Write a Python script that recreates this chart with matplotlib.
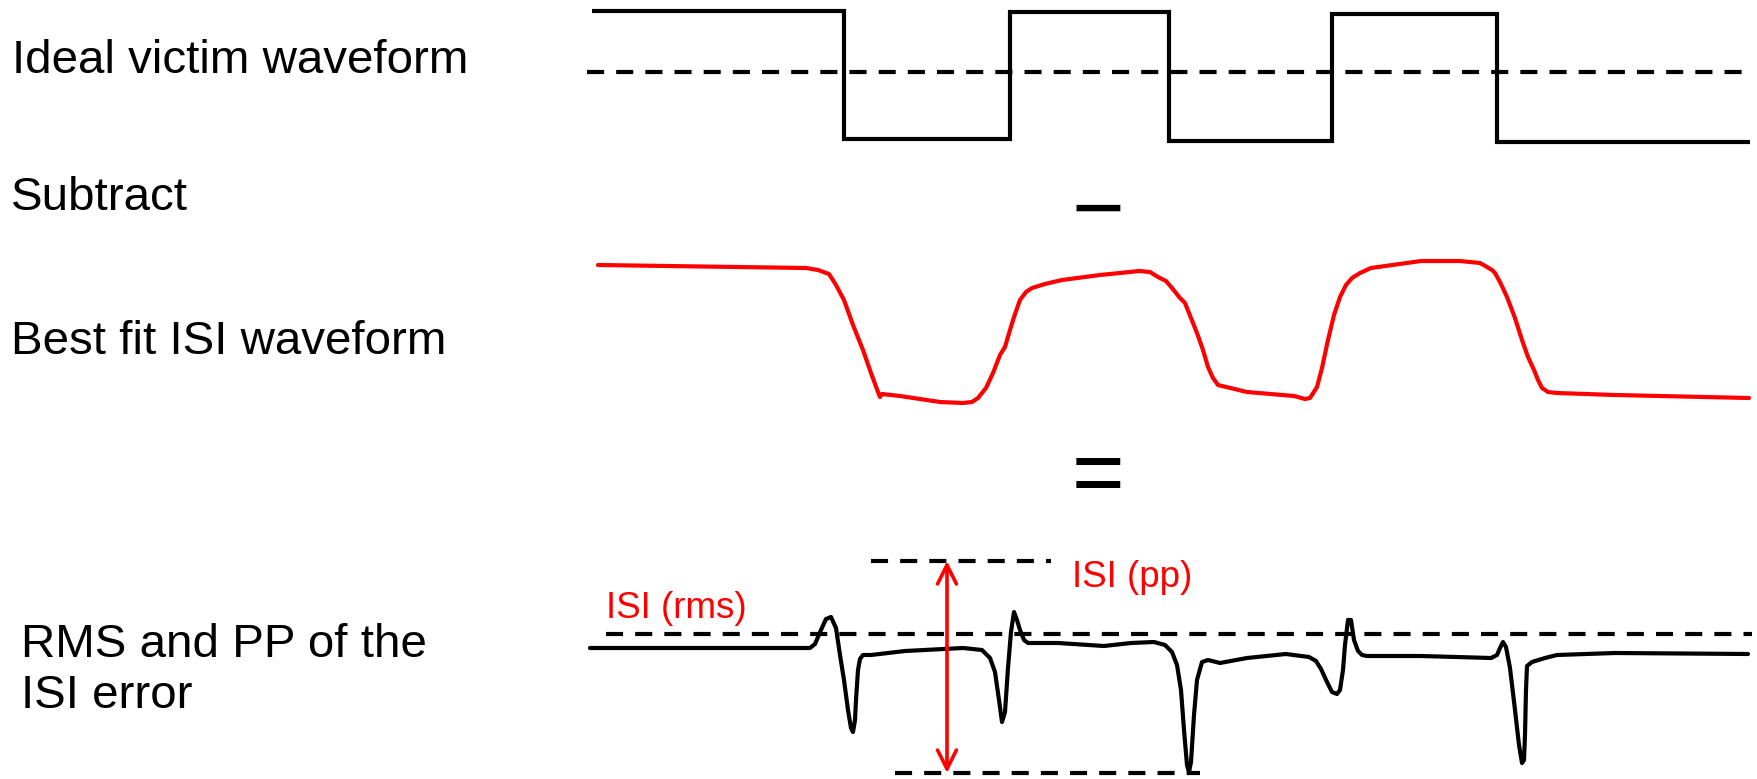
import matplotlib
matplotlib.use("Agg")
import matplotlib.pyplot as plt
from matplotlib.patches import ArrowStyle

plt.rcParams['font.family'] = ['Liberation Sans', 'DejaVu Sans']

# ---- data (picture coordinates, pixels; y grows downward) ----
row_labels = ["Ideal victim waveform", "Subtract", "Best fit ISI waveform",
              "RMS and PP of the", "ISI error"]
label_x = [12, 11, 11, 21, 21]
label_y = [73, 210, 354, 657, 708]

ideal_x = [592, 844, 844, 1010, 1010, 1169, 1169, 1332, 1332, 1497, 1497, 1750]
ideal_y = [11, 11, 139, 139, 12, 12, 141, 141, 14, 14, 142, 142]
ideal_mid_y = 72
ideal_mid_x = [587, 1750]

fit_x = [598, 806, 818, 829, 836, 844, 853, 863, 871, 878, 880, 882, 900, 940,
         963, 972, 978, 986, 993, 1000, 1005, 1010, 1014, 1020, 1026, 1032, 1045,
         1062, 1100, 1120, 1139, 1150, 1158, 1166, 1172, 1180, 1185, 1191, 1197,
         1203, 1208, 1213, 1218, 1247, 1294, 1305, 1310, 1317, 1322, 1328, 1334,
         1340, 1346, 1352, 1360, 1371, 1421, 1460, 1480, 1487, 1492, 1495, 1500,
         1507, 1515, 1522, 1528, 1534, 1538, 1542, 1548, 1557, 1615, 1749]
fit_y = [265, 268, 270, 274, 285, 300, 325, 350, 373, 392, 397, 394, 396, 402,
         403, 402, 398, 388, 373, 355, 347, 330, 317, 300, 292, 288, 284,
         280, 275, 273, 271, 272, 277, 281, 288, 298, 303, 318, 333,
         350, 367, 378, 385, 392, 396, 399, 398, 387, 368, 340, 315,
         297, 285, 278, 273, 268, 261, 261, 263, 267, 270, 273, 282,
         297, 318, 340, 357, 370, 380, 388, 392, 393, 395, 398]

err_x = [590, 810, 815, 821, 826, 831, 836, 840, 844, 848, 851, 853, 855, 856,
         858, 860, 863, 871, 905, 963, 982, 990, 995, 999, 1002, 1005, 1008, 1011,
         1014, 1017, 1020, 1024, 1028, 1058, 1104, 1131, 1154, 1165, 1172, 1177,
         1181, 1184, 1187, 1189, 1191, 1194, 1197, 1202, 1208, 1220, 1247, 1286,
         1309, 1316, 1321, 1327, 1332, 1337, 1340, 1343, 1345, 1348, 1351, 1354,
         1358, 1362, 1367, 1421, 1491, 1497, 1500, 1503, 1506, 1510, 1515, 1519,
         1522, 1524, 1525, 1526, 1527, 1532, 1545, 1557, 1615, 1748]
err_y = [648, 648, 644, 630, 619, 617, 628, 655, 680, 710, 728, 732, 720, 700,
         670, 659, 655, 655, 651, 648, 650, 658, 672, 700, 722, 712, 668, 632,
         612, 620, 630, 640, 643, 643, 646, 643, 642, 645, 652, 665, 690, 730,
         765, 772, 762, 715, 680, 662, 660, 663, 658, 654, 657, 661, 669, 682,
         692, 694, 690, 670, 645, 620, 620, 640, 651, 655, 656, 656, 658, 655,
         648, 642, 647, 668, 710, 745, 763, 760, 735, 690, 666, 662, 658, 655,
         653, 654]

rms_level_y = 634
rms_x = [606, 1752]
pp_top_y = 561
pp_top_x = [871, 1051]
pp_bot_y = 773
pp_bot_x = [895, 1200]
pp_arrow_x = 947

rms_label = "ISI (rms)"
rms_label_pos = (606, 618)
pp_label = "ISI (pp)"
pp_label_pos = (1072, 587)

op_minus = "\u2212"
op_minus_pos = (1098, 238)
op_equals = "="
op_equals_pos = (1098, 503)

# ---- drawing ----
W, H = 1758, 779
fig = plt.figure(figsize=(W / 100, H / 100), dpi=100)
ax = fig.add_axes([0, 0, 1, 1])
ax.set_xlim(0, W)
ax.set_ylim(H, 0)
ax.axis('off')

LW = 3.0
dash = (0, (4.1, 2.9))

ax.plot(ideal_x, ideal_y, color='black', lw=LW, solid_joinstyle='miter', solid_capstyle='butt')
ax.plot(ideal_mid_x, [ideal_mid_y] * 2, color='black', lw=LW, linestyle=dash, dash_capstyle='butt')

ax.plot(fit_x, fit_y, color='#ff0000', lw=LW, solid_joinstyle='round', solid_capstyle='round')

ax.plot(err_x, err_y, color='black', lw=LW, solid_joinstyle='round', solid_capstyle='round')
ax.plot(rms_x, [rms_level_y] * 2, color='black', lw=LW, linestyle=dash, dash_capstyle='butt')
ax.plot(pp_top_x, [pp_top_y] * 2, color='black', lw=LW, linestyle=dash, dash_capstyle='butt')
ax.plot(pp_bot_x, [pp_bot_y] * 2, color='black', lw=LW, linestyle=dash, dash_capstyle='butt')

ax.annotate('', xy=(pp_arrow_x, pp_top_y), xytext=(pp_arrow_x, pp_bot_y),
            arrowprops=dict(arrowstyle=ArrowStyle('<->', head_length=0.68, head_width=0.34),
                            mutation_scale=20, color='#ff0000', lw=2.6,
                            shrinkA=0, shrinkB=0))

for lbl, x, y in zip(row_labels, label_x, label_y):
    ax.text(x, y, lbl, fontsize=34.2, color='black', ha='left', va='baseline')

ax.text(*rms_label_pos, rms_label, fontsize=26.5, color='#ff0000', ha='left', va='baseline')
ax.text(*pp_label_pos, pp_label, fontsize=26.5, color='#ff0000', ha='left', va='baseline')

ax.text(*op_minus_pos, op_minus, fontsize=65, color='black', ha='center', va='baseline')
ax.text(*op_equals_pos, op_equals, fontsize=65, color='black', ha='center', va='baseline')

fig.savefig('out.png', dpi=100, facecolor='white')
